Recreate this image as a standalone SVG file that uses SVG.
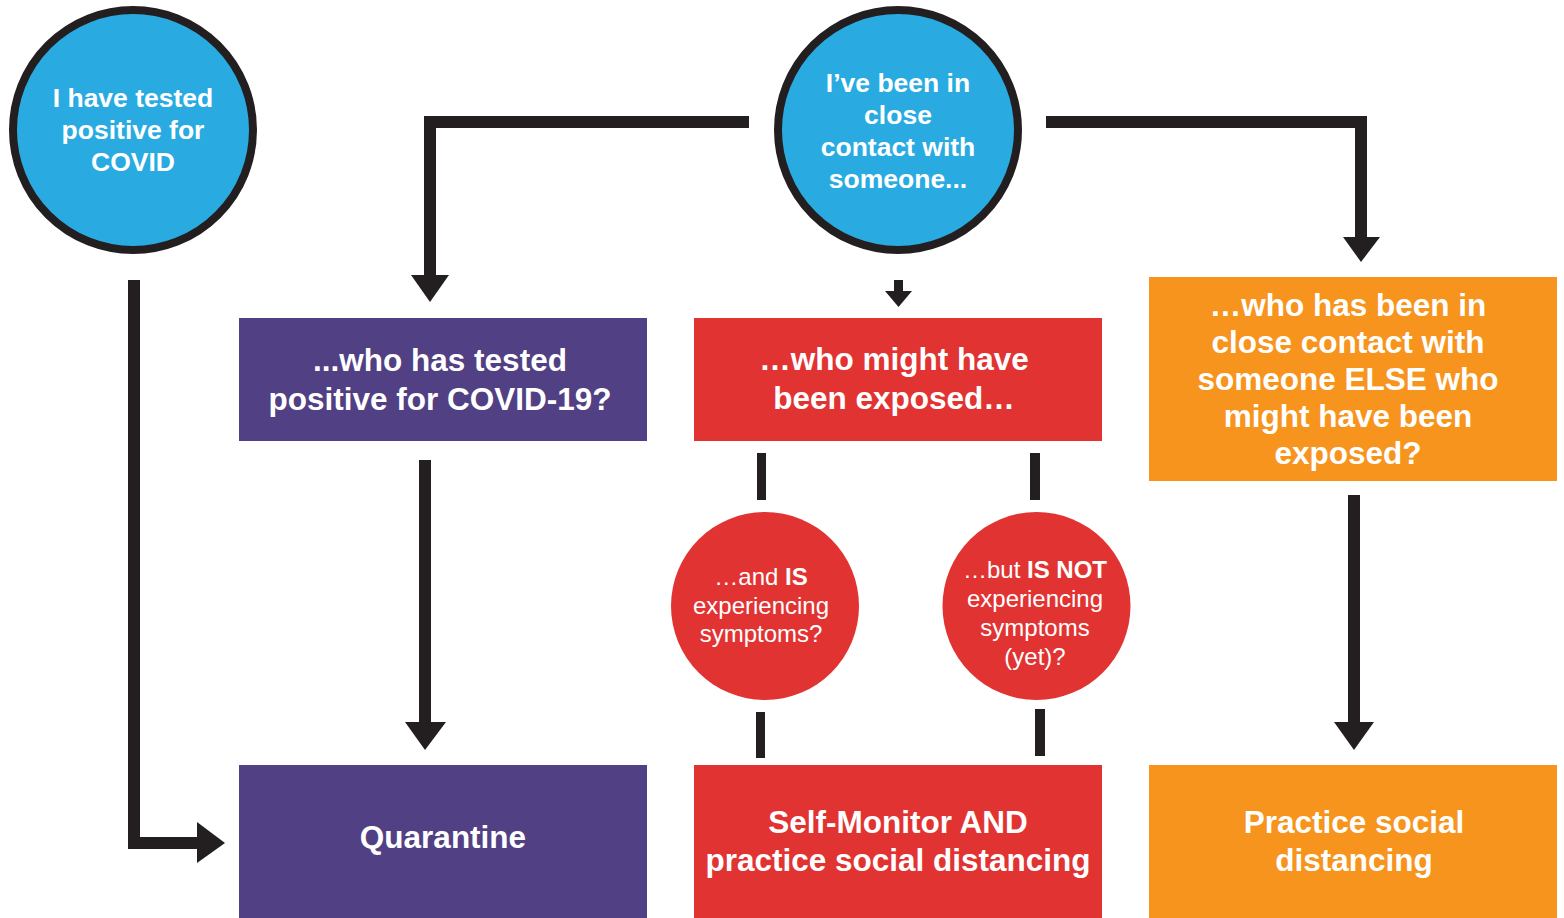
<svg xmlns="http://www.w3.org/2000/svg" width="1564" height="918" viewBox="0 0 1564 918">
<style>
.t{font-family:"Liberation Sans",Arial,sans-serif;fill:#fff;text-anchor:middle}
.b{font-weight:bold}
.c{font-size:26.5px}
.box{font-size:31.5px}
.sm{font-size:24px}
.ln{fill:none;stroke:#231F20;stroke-width:12}
.ah{fill:#231F20}
.bar{fill:#231F20}
</style>
<rect width="1564" height="918" fill="#fff"/>
<g id="connectors">
<polyline class="ln" points="749,122 430,122 430,278"/>
<polygon class="ah" points="411,275 449,275 430,302"/>
<polyline class="ln" points="1046,122 1361,122 1361,240"/>
<polygon class="ah" points="1343,237 1380,237 1361,262"/>
<rect class="bar" x="894" y="280" width="9" height="14"/>
<polygon class="ah" points="885,291 912,291 898.5,307"/>
<polyline class="ln" points="134,280 134,843 200,843"/>
<polygon class="ah" points="197,822 197,863 225,843"/>
<rect class="bar" x="419" y="460" width="12" height="265"/>
<polygon class="ah" points="405,722 446,722 425,750"/>
<rect class="bar" x="1348" y="495" width="12" height="228"/>
<polygon class="ah" points="1334,722 1374,722 1354,750"/>
<rect class="bar" x="757" y="453" width="9" height="47"/>
<rect class="bar" x="1030" y="453" width="10" height="47"/>
<rect class="bar" x="756" y="712" width="9" height="46"/>
<rect class="bar" x="1035" y="709" width="10" height="47"/>
</g>
<g id="n-positive">
<circle cx="133" cy="130" r="120" fill="#29ABE2" stroke="#231F20" stroke-width="8"/>
<text class="t b c" x="133" y="107">I have tested</text>
<text class="t b c" x="133" y="139">positive for</text>
<text class="t b c" x="133" y="171">COVID</text>
</g>
<g id="n-contact">
<circle cx="898" cy="130" r="120" fill="#29ABE2" stroke="#231F20" stroke-width="8"/>
<text class="t b c" x="898" y="92">I’ve been in</text>
<text class="t b c" x="898" y="124">close</text>
<text class="t b c" x="898" y="156">contact with</text>
<text class="t b c" x="898" y="188">someone...</text>
</g>
<g id="n-tested">
<rect x="239" y="318" width="408" height="123" fill="#524084"/>
<text class="t b box" x="440" y="371">...who has tested</text>
<text class="t b box" x="440" y="410">positive for COVID-19?</text>
</g>
<g id="n-exposed">
<rect x="694" y="318" width="408" height="123" fill="#E23333"/>
<text class="t b box" x="894" y="370">…who might have</text>
<text class="t b box" x="894" y="409">been exposed…</text>
</g>
<g id="n-else">
<rect x="1149" y="277" width="408" height="204" fill="#F7941E"/>
<text class="t b box" x="1348" y="316">…who has been in</text>
<text class="t b box" x="1348" y="353">close contact with</text>
<text class="t b box" x="1348" y="390">someone ELSE who</text>
<text class="t b box" x="1348" y="427">might have been</text>
<text class="t b box" x="1348" y="464">exposed?</text>
</g>
<g id="n-is">
<circle cx="765" cy="606" r="94" fill="#E23333"/>
<text class="t sm" x="761" y="585">…and <tspan class="b">IS</tspan></text>
<text class="t sm" x="761" y="614">experiencing</text>
<text class="t sm" x="761" y="642">symptoms?</text>
</g>
<g id="n-isnot">
<circle cx="1036.5" cy="606" r="94" fill="#E23333"/>
<text class="t sm" x="1035" y="578">…but <tspan class="b">IS NOT</tspan></text>
<text class="t sm" x="1035" y="607">experiencing</text>
<text class="t sm" x="1035" y="636">symptoms</text>
<text class="t sm" x="1035" y="665">(yet)?</text>
</g>
<g id="n-quarantine">
<rect x="239" y="765" width="408" height="153" fill="#524084"/>
<text class="t b box" x="443" y="848">Quarantine</text>
</g>
<g id="n-selfmonitor">
<rect x="694" y="765" width="408" height="153" fill="#E23333"/>
<text class="t b box" x="898" y="833">Self-Monitor AND</text>
<text class="t b box" x="898" y="871">practice social distancing</text>
</g>
<g id="n-distancing">
<rect x="1149" y="765" width="408" height="153" fill="#F7941E"/>
<text class="t b box" x="1354" y="833">Practice social</text>
<text class="t b box" x="1354" y="871">distancing</text>
</g>
</svg>
